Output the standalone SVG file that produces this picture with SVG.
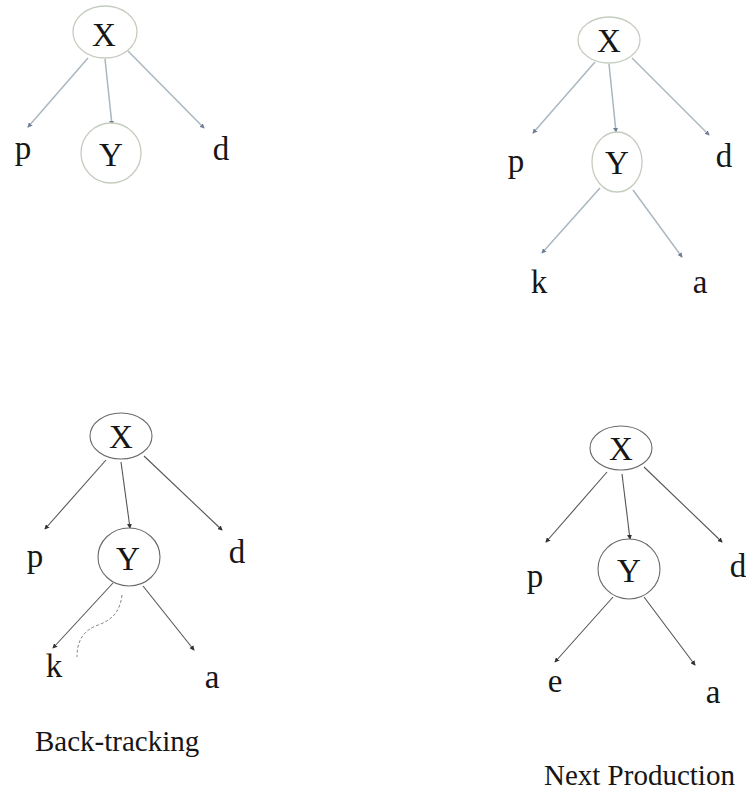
<svg xmlns="http://www.w3.org/2000/svg" width="746" height="794" viewBox="0 0 746 794">
  <defs>
    <marker id="tipLight" viewBox="0 0 6 6" refX="5" refY="3" markerWidth="5" markerHeight="5" orient="auto" markerUnits="userSpaceOnUse">
      <path d="M0,0 L6,3 L0,6 z" fill="#6f7f96"/>
    </marker>
    <marker id="tipDark" viewBox="0 0 6 6" refX="5" refY="3" markerWidth="5" markerHeight="5" orient="auto" markerUnits="userSpaceOnUse">
      <path d="M0,0 L6,3 L0,6 z" fill="#333"/>
    </marker>
  </defs>
  <style>
    text { font-family: 'Liberation Serif', 'DejaVu Serif', serif; fill: #161616; }
    .sym { font-size: 33px; text-anchor: middle; }
    .cap { font-size: 29px; }
    .nodeL { fill: #fff; stroke: #c5cdbf; stroke-width: 1.3; }
    .nodeD { fill: #fff; stroke: #6a6a6a; stroke-width: 1.1; }
    .edgeL { stroke: #a9b7c0; stroke-width: 1.5; fill: none; marker-end: url(#tipLight); }
    .edgeD { stroke: #555; stroke-width: 1.1; fill: none; marker-end: url(#tipDark); }
  </style>
  <rect width="746" height="794" fill="#fff"/>

  <!-- edges -->
  <g id="connectors">
    <!-- tree 1 -->
    <line class="edgeL" x1="88" y1="58" x2="28" y2="127"/>
    <line class="edgeL" x1="105" y1="59" x2="112" y2="125"/>
    <line class="edgeL" x1="128" y1="51" x2="204" y2="128"/>
    <!-- tree 2 -->
    <line class="edgeL" x1="595" y1="62" x2="533" y2="133"/>
    <line class="edgeL" x1="609" y1="64" x2="616" y2="132"/>
    <line class="edgeL" x1="632" y1="58" x2="709" y2="135"/>
    <line class="edgeL" x1="600" y1="188" x2="542" y2="253"/>
    <line class="edgeL" x1="633" y1="190" x2="682" y2="257"/>
    <!-- tree 3 -->
    <line class="edgeD" x1="106" y1="460" x2="45" y2="529"/>
    <line class="edgeD" x1="121" y1="462" x2="130" y2="528"/>
    <line class="edgeD" x1="144" y1="456" x2="222" y2="530"/>
    <line class="edgeD" x1="113" y1="583" x2="53" y2="648"/>
    <line class="edgeD" x1="143" y1="586" x2="194" y2="650"/>
    <path d="M122,595 C120,612 112,620 98,625 C84,630 77,640 77,657" fill="none" stroke="#888" stroke-width="1" stroke-dasharray="3,2"/>
    <!-- tree 4 -->
    <line class="edgeD" x1="607" y1="472" x2="546" y2="542"/>
    <line class="edgeD" x1="622" y1="474" x2="630" y2="539"/>
    <line class="edgeD" x1="644" y1="467" x2="722" y2="542"/>
    <line class="edgeD" x1="613" y1="597" x2="555" y2="662"/>
    <line class="edgeD" x1="644" y1="597" x2="695" y2="665"/>
  </g>

  <!-- tree 1 -->
  <g id="t1-X"><ellipse class="nodeL" cx="105" cy="32" rx="32" ry="26"/><text class="sym" x="104" y="46">X</text></g>
  <g id="t1-Y"><ellipse class="nodeL" cx="111" cy="153" rx="30" ry="30"/><text class="sym" x="111" y="166">Y</text></g>
  <g id="t1-p"><text class="sym" x="23" y="159">p</text></g>
  <g id="t1-d"><text class="sym" x="221" y="160">d</text></g>

  <!-- tree 2 -->
  <g id="t2-X"><ellipse class="nodeL" cx="609" cy="40" rx="31" ry="23"/><text class="sym" x="609" y="52">X</text></g>
  <g id="t2-Y"><ellipse class="nodeL" cx="617" cy="162" rx="25" ry="30"/><text class="sym" x="617" y="174">Y</text></g>
  <g id="t2-p"><text class="sym" x="516" y="172">p</text></g>
  <g id="t2-d"><text class="sym" x="724" y="167">d</text></g>
  <g id="t2-k"><text class="sym" x="539" y="293">k</text></g>
  <g id="t2-a"><text class="sym" x="700" y="293">a</text></g>

  <!-- tree 3 -->
  <g id="t3-X"><ellipse class="nodeD" cx="121" cy="436" rx="31" ry="23"/><text class="sym" x="121" y="448">X</text></g>
  <g id="t3-Y"><ellipse class="nodeD" cx="129" cy="557" rx="31" ry="29"/><text class="sym" x="128" y="570">Y</text></g>
  <g id="t3-p"><text class="sym" x="35" y="567">p</text></g>
  <g id="t3-d"><text class="sym" x="237" y="563">d</text></g>
  <g id="t3-k"><text class="sym" x="54" y="677">k</text></g>
  <g id="t3-a"><text class="sym" x="212" y="688">a</text></g>

  <!-- tree 4 -->
  <g id="t4-X"><ellipse class="nodeD" cx="621" cy="448" rx="31" ry="22"/><text class="sym" x="621" y="460">X</text></g>
  <g id="t4-Y"><ellipse class="nodeD" cx="629" cy="569" rx="31" ry="30"/><text class="sym" x="629" y="582">Y</text></g>
  <g id="t4-p"><text class="sym" x="535" y="587">p</text></g>
  <g id="t4-d"><text class="sym" x="738" y="577">d</text></g>
  <g id="t4-e"><text class="sym" x="555" y="692">e</text></g>
  <g id="t4-a"><text class="sym" x="713" y="703">a</text></g>

  <!-- captions -->
  <text class="cap" x="35" y="751">Back-tracking</text>
  <text class="cap" x="544" y="785">Next Production</text>
</svg>
